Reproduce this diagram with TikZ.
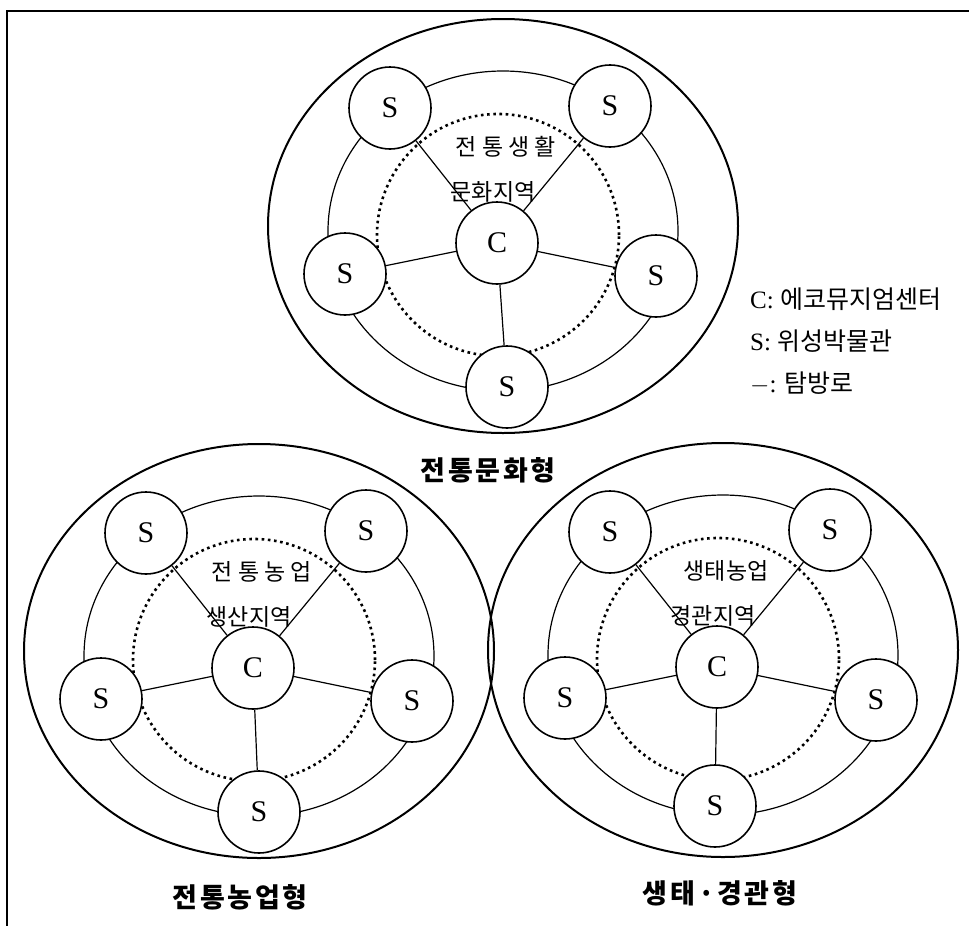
\documentclass[tikz,border=0pt]{standalone}
\usepackage{fontspec}
\setmainfont{Liberation Serif}
\newfontfamily\kr{Noto Sans CJK KR}
\newfontfamily\krt{Noto Sans CJK KR}[LetterSpace=10]
\tikzset{
  outer/.style={line width=2pt},
  ring/.style={line width=1.2pt},
  dots/.style={line width=2.6pt, dash pattern=on 2.6pt off 3.6pt},
  stn/.style={circle, draw, line width=1.6pt, minimum size=82pt, inner sep=0pt, fill=white, font=\fontsize{30}{30}\selectfont},
  ctr/.style={circle, draw, line width=1.6pt, minimum size=82pt, inner sep=0pt, fill=white, font=\fontsize{30}{30}\selectfont},
  spoke/.style={line width=1.2pt},
  inlab/.style={font=\kr\fontsize{23}{23}\selectfont, inner sep=0pt},
  title/.style={font=\krt\bfseries\fontsize{27}{27}\selectfont, inner sep=0pt},
  leg/.style={font=\fontsize{25}{25}\selectfont, anchor=west, inner sep=0pt},
  frame/.style={line width=2pt}
}
% #1 prefix, #2 centre position, #3 first text line, #4 second text line, #5 offset of the lowest S
\newcommand{\mygroup}[5]{%
  \begin{scope}[shift={#2}]
    \draw[outer] (6,-17) ellipse [x radius=235pt, y radius=207pt];
    \draw[ring] (6,-12) ellipse [x radius=175pt, y radius=160pt];
    \draw[dots] (1,-8) circle [radius=121pt];
    \node[inlab] (#1t1) at (9,-96) {#3};
    \node[inlab] (#1t2) at (-4,-51) {#4};
    \node[stn] (#1S1) at (-107,-135) {S};
    \node[stn] (#1S2) at (113,-137) {S};
    \node[stn] (#1S3) at (-152,31) {S};
    \node[stn] (#1S4) at (159,33) {S};
    \node[stn] (#1S5) at #5 {S};
    \node[ctr] (#1C) at (0,0) {C};
    \foreach \i in {1,...,5} \draw[spoke] (#1C) -- (#1S\i);
  \end{scope}}
\begin{document}
\begin{tikzpicture}[x=1pt, y=-1pt]
  \useasboundingbox (0,0) rectangle (969,926);
  \coordinate (f1) at (4,11);
  \coordinate (f2) at (969,11);
  \coordinate (f3) at (7,926);
  \draw[frame] (f2) -- (f1 -| f3) -- (f3);
  \mygroup{a}{(497,243)}{전 통 생 활}{문화지역}{(10,144)}
  \mygroup{b}{(253,668)}{전 통 농 업}{생산지역}{(6,144)}
  \mygroup{c}{(717,667)}{생태농업}{경관지역}{(-2,139)}
  \node[title] (ta) at (488,470) {전통문화형};
  \node[title] (tb) at (240,897) {전통농업형};
  \node[title] (tc) at (720,893) {생태·경관형};
  \node[leg] (l1) at (750,299) {C: {\kr 에코뮤지엄센터}};
  \node[leg] (l2) at (750,341) {S: {\kr 위성박물관}};
  \node[leg] (l3) at (750,383) {$-$: {\kr 탐방로}};
\end{tikzpicture}
\end{document}
